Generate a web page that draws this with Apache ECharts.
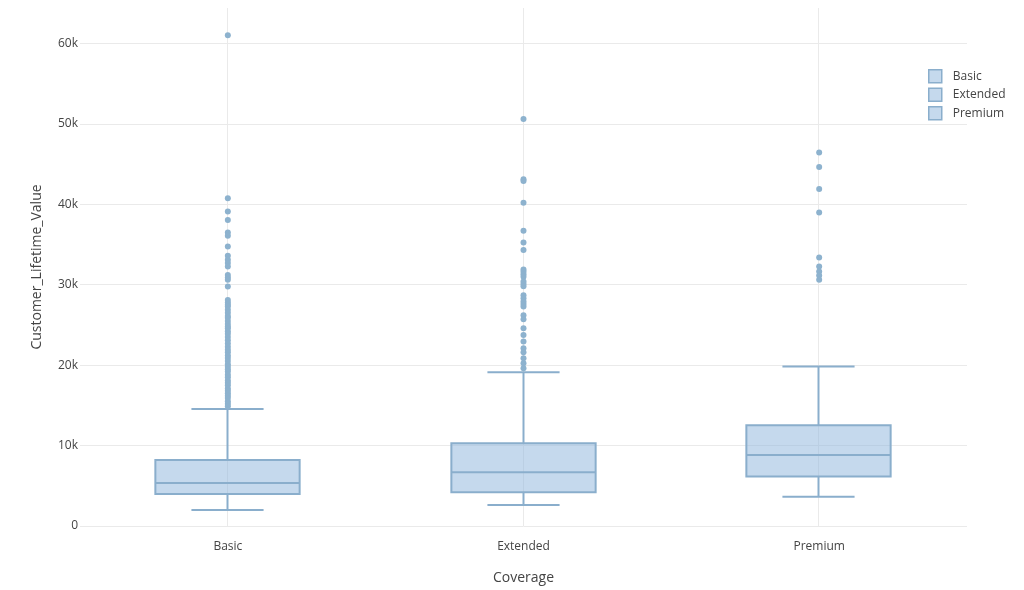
<!DOCTYPE html>
<html>
<head>
<meta charset="utf-8">
<script src="https://cdn.jsdelivr.net/npm/echarts@6/dist/echarts.min.js"></script>
<style>
  html, body { margin: 0; padding: 0; background: #fff; }
  #chart { width: 1024px; height: 590px; }
</style>
</head>
<body>
<div id="chart"></div>
<script>
const categories = ['Basic', 'Extended', 'Premium'];
const whiskerLow = [1990, 2610, 3650];
const quartile1 = [3980, 4190, 6140];
const medians = [5350, 6680, 8830];
const quartile3 = [8210, 10290, 12520];
const whiskerHigh = [14550, 19120, 19820];

const outliersBasic = [61000, 40760, 39100, 38030, 36500, 36100, 34750, 33590, 33100, 32700, 32260,
  31220, 30900, 30600, 29770, 28110, 27800, 27500, 27300, 26900, 26500, 26100, 25900, 25500, 25100,
  24800, 24600, 24200, 23900, 23500, 23100, 22700, 22300, 21900, 21600, 21200, 20900, 20500, 20100,
  19800, 19500, 19200, 18800, 18500, 18100, 17800, 17500, 17100, 16800, 16500, 16200, 15900, 15500,
  15200, 14900];
const outliersExtended = [50590, 43100, 42900, 40180, 36700, 35250, 34300, 31900, 31600, 31300, 31000,
  30400, 30100, 29800, 28700, 28300, 27900, 27600, 27300, 26200, 25700, 24590, 23760, 22930, 22100,
  21600, 20860, 20240, 19620];
const outliersPremium = [46440, 44620, 41890, 38980, 33380, 32260, 31640, 31140, 30600];

const yMax = 64400;

const boxFill = 'rgba(140,180,220,0.5)';
const boxStroke = 'rgb(138,174,204)';
const dotColor = 'rgb(141,178,206)';
const textColor = '#444';
const gridColor = '#eaeaea';
const fontFamily = '"Open Sans", Verdana, Arial, sans-serif';

const outlierSets = [outliersBasic, outliersExtended, outliersPremium];

function renderBox(params, api) {
  const x = api.value(0);
  const lo = api.coord([x, api.value(1)]);
  const q1 = api.coord([x, api.value(2)]);
  const med = api.coord([x, api.value(3)]);
  const q3 = api.coord([x, api.value(4)]);
  const hi = api.coord([x, api.value(5)]);
  const band = api.size([1, 0])[0];
  const half = band * 0.244;
  const cap = half / 2;
  const cx = Math.round(lo[0]) - 0.5;
  const cs = params.coordSys;
  const lineStyle = { stroke: boxStroke, lineWidth: 2, fill: null };
  return {
    type: 'group',
    children: [
      { type: 'line', shape: { x1: cx, y1: cs.y, x2: cx, y2: cs.y + cs.height },
        style: { stroke: gridColor, lineWidth: 1 }, z2: 0 },
      { type: 'line', shape: { x1: cx, y1: q3[1], x2: cx, y2: hi[1] }, style: lineStyle, z2: 1 },
      { type: 'line', shape: { x1: cx, y1: q1[1], x2: cx, y2: lo[1] }, style: lineStyle, z2: 1 },
      { type: 'line', shape: { x1: cx - cap, y1: hi[1], x2: cx + cap, y2: hi[1] }, style: lineStyle, z2: 1 },
      { type: 'line', shape: { x1: cx - cap, y1: lo[1], x2: cx + cap, y2: lo[1] }, style: lineStyle, z2: 1 },
      { type: 'rect', shape: { x: cx - half, y: q3[1], width: half * 2, height: q1[1] - q3[1] },
        style: { fill: boxFill, stroke: boxStroke, lineWidth: 2 }, z2: 2 },
      { type: 'line', shape: { x1: cx - half, y1: med[1], x2: cx + half, y2: med[1] }, style: lineStyle, z2: 3 }
    ]
  };
}

const series = [];
categories.forEach(function (name, i) {
  series.push({
    name: name,
    type: 'custom',
    renderItem: renderBox,
    itemStyle: { color: boxFill, borderColor: boxStroke },
    encode: { x: 0, y: [1, 2, 3, 4, 5] },
    data: [[i, whiskerLow[i], quartile1[i], medians[i], quartile3[i], whiskerHigh[i]]],
    silent: true,
    z: 2
  });
  series.push({
    name: name,
    type: 'scatter',
    symbolSize: 6,
    itemStyle: { color: dotColor, opacity: 1 },
    data: outlierSets[i].map(function (v) { return [i, v]; }),
    silent: true,
    z: 3
  });
});

const chart = echarts.init(document.getElementById('chart'), null, { renderer: 'canvas' });
chart.setOption({
  animation: false,
  backgroundColor: '#fff',
  textStyle: { fontFamily: fontFamily },
  grid: { left: 80, right: 57, top: 8, bottom: 64, containLabel: false },
  legend: {
    orient: 'vertical',
    left: 923,
    top: 64,
    itemWidth: 13,
    itemHeight: 13,
    itemGap: 4,
    icon: 'rect',
    textStyle: { color: textColor, fontSize: 12, fontFamily: fontFamily, padding: [0, 0, 0, 6] },
    data: categories.map(function (c) {
      return { name: c, itemStyle: { color: 'rgb(197,217,237)', borderColor: boxStroke, borderWidth: 1.5 } };
    })
  },
  xAxis: {
    type: 'category',
    data: categories,
    name: 'Coverage',
    nameLocation: 'middle',
    nameGap: 45,
    nameTextStyle: { color: textColor, fontSize: 14, fontFamily: fontFamily },
    axisLine: { show: false },
    axisTick: { show: false },
    splitLine: { show: false },
    axisLabel: { color: textColor, fontSize: 12, margin: 15, fontFamily: fontFamily }
  },
  yAxis: {
    type: 'value',
    min: 0,
    max: yMax,
    interval: 10000,
    name: 'Customer_Lifetime_Value',
    nameLocation: 'middle',
    nameGap: 36,
    nameTextStyle: { color: textColor, fontSize: 14, fontFamily: fontFamily },
    axisLine: { show: false },
    axisTick: { show: false },
    splitLine: { show: true, showMaxLine: false, lineStyle: { color: gridColor, width: 1 } },
    axisLabel: {
      color: textColor, fontSize: 12, margin: 2, fontFamily: fontFamily, showMaxLabel: false,
      formatter: function (v) { return v === 0 ? '0' : (v / 1000) + 'k'; }
    }
  },
  series: series
});
</script>
</body>
</html>
